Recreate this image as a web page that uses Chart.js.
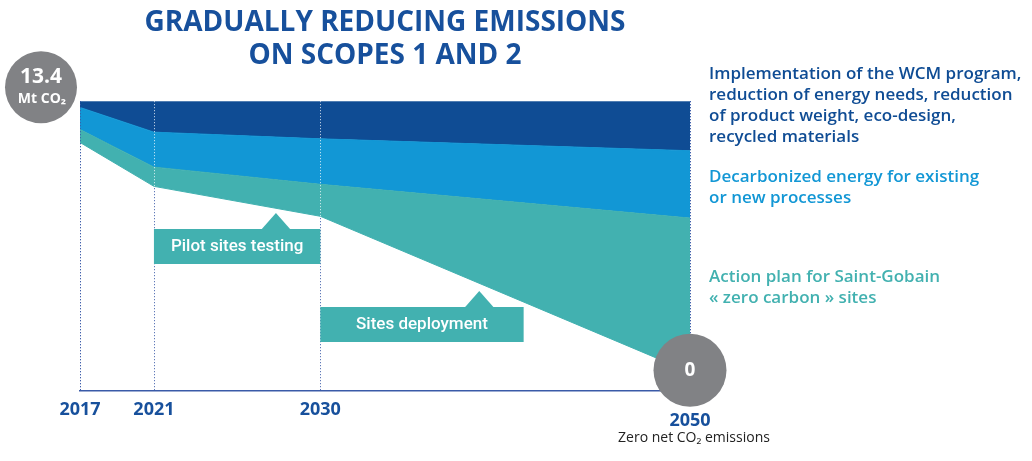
<!DOCTYPE html>
<html>
<head>
<meta charset="utf-8">
<title>Gradually reducing emissions on scopes 1 and 2</title>
<script src="https://cdn.jsdelivr.net/npm/chart.js@4/dist/chart.umd.min.js"></script>
<style>
body { margin: 0; background: #fff; }
#wrap { position: relative; width: 1032px; height: 461px; }
</style>
</head>
<body>
<div id="wrap"><canvas id="myChart"></canvas></div>
<script>
// Mt CO2, stacked from the bottom: what is left, then each lever's reduction
const years = [2017, 2021, 2030, 2050];
const tickLabels = ['2017', '2021', '2030', '2050'];
const remaining = [11.36, 9.19, 7.71, 0];
const zeroCarbonSites = [0.64, 0.95, 1.58, 7.62];
const decarbonizedEnergy = [1.09, 1.73, 2.25, 3.33];
const wcmProgram = [0.31, 1.53, 1.86, 2.45];
const startLabel = ['13.4', 'Mt CO\u2082'];
const endLabel = '0';
const endNote = 'Zero net CO\u2082 emissions';
const titleLines = ['GRADUALLY REDUCING EMISSIONS', 'ON SCOPES 1 AND 2'];
const wcmNote = ['Implementation of the WCM program,', 'reduction of energy needs, reduction', 'of product weight, eco-design,', 'recycled materials'];
const energyNote = ['Decarbonized energy for existing', 'or new processes'];
const sitesNote = ['Action plan for Saint-Gobain', '\u00ab zero carbon \u00bb sites'];
const callouts = [
	{ text: 'Pilot sites testing', from: 2021, to: 2030, tip: 2027.6 },
	{ text: 'Sites deployment', from: 2030, to: 2041, tip: 2038.6 }
];

const NAVY = '#0f4c94';
const BLUE = '#1297d5';
const TEAL = '#42b1b0';
const INK = '#17509c';
const GREY = '#818285';
const DOTS = '#3a5aa8';

function points(values) {
	return values.map((v, i) => ({ x: years[i], y: v }));
}

function vline(ctx, x, y1, y2) {
	ctx.beginPath();
	ctx.moveTo(x, y1);
	ctx.lineTo(x, y2);
	ctx.stroke();
}

const decorations = {
	id: 'decorations',
	beforeDatasetsDraw(chart) {
		const { ctx, chartArea, scales } = chart;
		ctx.save();
		ctx.strokeStyle = DOTS;
		ctx.lineWidth = 1;
		ctx.setLineDash([1, 2]);
		years.forEach(yr => {
			const px = Math.round(scales.x.getPixelForValue(yr)) + 0.5;
			vline(ctx, px, chartArea.top, chartArea.bottom);
		});
		ctx.restore();
	},
	afterDatasetsDraw(chart) {
		const { ctx, chartArea, scales } = chart;
		const base = chart.getDatasetMeta(0).data;
		ctx.save();
		ctx.lineWidth = 1;
		ctx.setLineDash([1, 2]);
		years.forEach((yr, i) => {
			const px = Math.round(scales.x.getPixelForValue(yr)) + 0.5;
			if (i == 0 || i == years.length - 1) {
				ctx.strokeStyle = DOTS;
				vline(ctx, px, chartArea.top, chartArea.bottom);
			} else {
				ctx.strokeStyle = 'rgba(255,255,255,0.85)';
				vline(ctx, px, chartArea.top, base[i].y);
			}
		});
		ctx.setLineDash([]);

		// teal callout boxes with their little pointer
		const boxTops = [229, 307];
		callouts.forEach((c, i) => {
			const x1 = scales.x.getPixelForValue(c.from);
			const x2 = scales.x.getPixelForValue(c.to);
			const tx = scales.x.getPixelForValue(c.tip);
			const top = boxTops[i];
			const h = 35;
			ctx.fillStyle = TEAL;
			ctx.fillRect(x1, top, x2 - x1, h);
			ctx.beginPath();
			ctx.moveTo(tx - 15, top + 1);
			ctx.lineTo(tx, top - 16);
			ctx.lineTo(tx + 15, top + 1);
			ctx.closePath();
			ctx.fill();
			ctx.fillStyle = '#fff';
			ctx.font = '500 17px Roboto';
			ctx.textAlign = 'center';
			ctx.textBaseline = 'middle';
			ctx.fillText(c.text, (x1 + x2) / 2, top + h / 2);
		});
		ctx.restore();
	},
	afterDraw(chart) {
		const { ctx, chartArea, scales } = chart;
		ctx.save();
		ctx.textAlign = 'center';
		ctx.textBaseline = 'middle';

		// starting point bubble
		const sx = chartArea.left - 39;
		const sy = chartArea.top - 14;
		ctx.fillStyle = GREY;
		ctx.beginPath();
		ctx.arc(sx, sy, 36, 0, Math.PI * 2);
		ctx.fill();
		ctx.fillStyle = '#fff';
		ctx.font = 'bold 21px "Open Sans"';
		ctx.fillText(startLabel[0], sx, sy - 10);
		ctx.font = 'bold 14px "Open Sans"';
		ctx.fillText(startLabel[1], sx + 1, sy + 12);

		// end point bubble
		const ex = scales.x.getPixelForValue(years[years.length - 1]);
		const ey = scales.y.getPixelForValue(0) - 2;
		ctx.fillStyle = GREY;
		ctx.beginPath();
		ctx.arc(ex, ey, 36.5, 0, Math.PI * 2);
		ctx.fill();
		ctx.fillStyle = '#fff';
		ctx.font = 'bold 19px "Open Sans"';
		ctx.fillText(endLabel, ex, ey);

		ctx.fillStyle = INK;
		ctx.font = 'bold 18px "Open Sans"';
		ctx.fillText(tickLabels[tickLabels.length - 1], ex, 421);
		ctx.fillStyle = '#222';
		ctx.font = '14px "Open Sans"';
		ctx.fillText(endNote, ex + 4, 438);

		// notes on the right
		ctx.textAlign = 'left';
		const nx = chartArea.right + 19;
		ctx.font = '600 17px "Open Sans"';
		ctx.fillStyle = NAVY;
		wcmNote.forEach((t, i) => ctx.fillText(t, nx, 74 + i * 21.2));
		ctx.fillStyle = BLUE;
		energyNote.forEach((t, i) => ctx.fillText(t, nx, 177 + i * 21));
		ctx.fillStyle = TEAL;
		sitesNote.forEach((t, i) => ctx.fillText(t, nx, 277 + i * 21));
		ctx.restore();
	}
};

const ctx = document.getElementById('myChart');

const myChart = new Chart(ctx, {
	type: 'line',
	data: {
		datasets: [{
			label: 'Remaining emissions',
			data: points(remaining),
			fill: false,
			borderColor: TEAL,
			borderWidth: 1,
			pointRadius: 0
		}, {
			label: 'Action plan for Saint-Gobain zero carbon sites',
			data: points(zeroCarbonSites),
			fill: '-1',
			backgroundColor: TEAL,
			borderColor: TEAL,
			borderWidth: 1,
			pointRadius: 0
		}, {
			label: 'Decarbonized energy',
			data: points(decarbonizedEnergy),
			fill: '-1',
			backgroundColor: BLUE,
			borderColor: BLUE,
			borderWidth: 1,
			pointRadius: 0
		}, {
			label: 'WCM program, eco-design, recycled materials',
			data: points(wcmProgram),
			fill: '-1',
			backgroundColor: NAVY,
			borderColor: NAVY,
			borderWidth: 1,
			pointRadius: 0
		}]
	},
	options: {
		responsive: true,
		maintainAspectRatio: false,
		animation: false,
		layout: {
			padding: { left: 80, right: 342, top: 0, bottom: 31 }
		},
		scales: {
			x: {
				type: 'linear',
				min: 2017,
				max: 2050,
				afterBuildTicks: (scale) => {
					scale.ticks = years.map(v => ({ value: v }));
				},
				grid: {
					display: false,
					drawTicks: false
				},
				border: {
					display: true,
					color: DOTS,
					width: 1.5
				},
				ticks: {
					padding: 9,
					color: INK,
					maxRotation: 0,
					font: { family: 'Open Sans', size: 18, weight: 'bold' },
					callback: function (value) {
						const i = years.indexOf(value);
						return i == years.length - 1 ? '' : tickLabels[i];
					}
				}
			},
			y: {
				stacked: true,
				display: false,
				min: -0.9,
				max: 13.4
			}
		},
		plugins: {
			legend: {
				display: false
			},
			tooltip: {
				enabled: false
			},
			title: {
				display: true,
				text: titleLines,
				fullSize: false,
				color: INK,
				font: { family: 'Open Sans', size: 28, weight: 'bold', lineHeight: 1.2 },
				padding: { top: 6, bottom: 28 }
			}
		}
	},
	plugins: [decorations]
});
</script>
</body>
</html>
